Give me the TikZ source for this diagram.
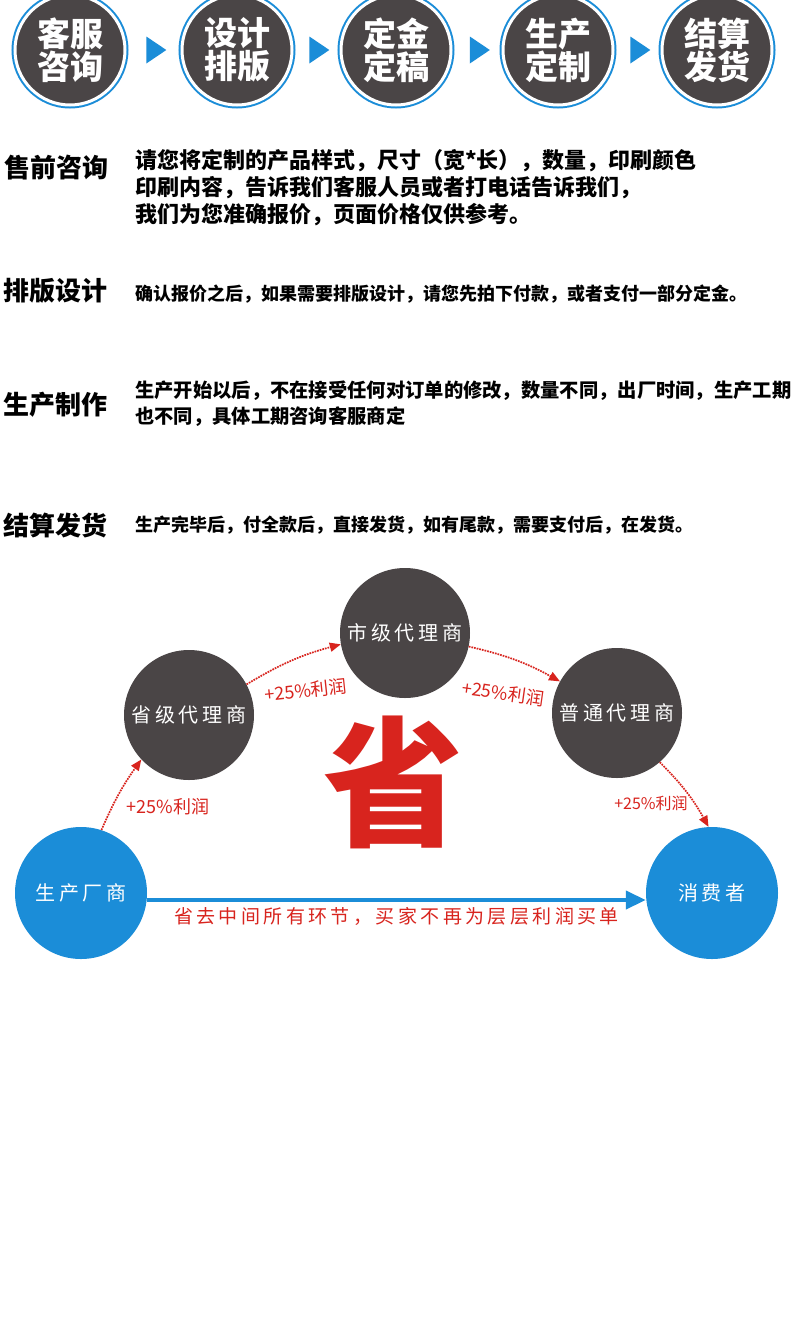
\documentclass[tikz,border=0pt]{standalone}
\usepackage{fontspec}
\setmainfont{Noto Sans CJK SC}
\newfontfamily\spaced[LetterSpace=18]{Noto Sans CJK SC}
\usepackage{tikz}
\usetikzlibrary{arrows.meta,shapes.geometric}
\definecolor{Dark}{HTML}{4A4546}
\definecolor{Sky}{HTML}{1B8DD8}
\definecolor{Crimson}{HTML}{D8241E}

\begin{document}
\begin{tikzpicture}[
  x=1pt,y=-1pt,
  stepnode/.style={circle,minimum size=110pt,inner sep=0pt,fill=Dark,draw=white,
                   line width=3pt,preaction={draw=Sky,line width=7pt},text=white,
                   align=center,font=\fontsize{33}{33}\bfseries\selectfont},
  marker/.style={isosceles triangle,isosceles triangle stretches,fill=Sky,
                 minimum width=27pt,minimum height=20pt,inner sep=0pt,
                 shape border rotate=0},
  title/.style={anchor=west,inner sep=0pt,font=\fontsize{26}{26}\bfseries\selectfont},
  body/.style={anchor=west,align=left,inner sep=0pt},
  agent/.style={circle,minimum size=130pt,inner sep=0pt,fill=Dark,text=white,
                font=\spaced\fontsize{20}{20}\selectfont},
  endpoint/.style={agent,minimum size=132pt,fill=Sky},
  profit/.style={inner sep=0pt,text=Crimson,font=\fontsize{18}{18}\selectfont},
  hop/.style={-{Triangle[length=11pt,width=9pt]},Crimson,densely dotted,line width=1.7pt},
  direct/.style={-{Triangle[length=20pt,width=18pt]},Sky,line width=4pt}
]

  \path[use as bounding box,fill=white] (0,0) rectangle (790,1320);

  \node[stepnode] (consult) at (70,50) {客服\\咨询};
  \node[stepnode] (design) at (237,50) {设计\\排版};
  \node[stepnode] (deposit) at (396,50) {定金\\定稿};
  \node[stepnode] (produce) at (558,50) {生产\\定制};
  \node[stepnode] (settle) at (717,50) {结算\\发货};

  \path (consult) -- (design) node[marker,midway] (m1) {};
  \path (design) -- (deposit) node[marker,midway] (m2) {};
  \path (deposit) -- (produce) node[marker,midway] (m3) {};
  \path (produce) -- (settle) node[marker,midway] (m4) {};

  \node[title] (t1) at (4,168) {售前咨询};
  \node[body,font=\fontsize{22}{27}\bfseries\selectfont] (b1) at (135,188) {请您将定制的产品样式，尺寸（宽*长），数量，印刷颜色\\印刷内容，告诉我们客服人员或者打电话告诉我们，\\我们为您准确报价，页面价格仅供参考。};

  \node[title] (t2) at (3,291) {排版设计};
  \node[body,font=\fontsize{18}{18}\bfseries\selectfont] (b2) at (135,294) {确认报价之后，如果需要排版设计，请您先拍下付款，或者支付一部分定金。};

  \node[title] (t3) at (3,405) {生产制作};
  \node[body,font=\fontsize{19.3}{26}\bfseries\selectfont] (b3) at (135,404) {生产开始以后，不在接受任何对订单的修改，数量不同，出厂时间，生产工期\\也不同，具体工期咨询客服商定};

  \node[title] (t4) at (3,525) {结算发货};
  \node[body,font=\fontsize{18}{18}\bfseries\selectfont] (b4) at (135,525) {生产完毕后，付全款后，直接发货，如有尾款，需要支付后，在发货。};

  \node[agent] (city) at (405,633) {市级代理商};
  \node[agent] (province) at (189,715) {省级代理商};
  \node[agent] (general) at (617,713) {普通代理商};
  \node[endpoint] (maker) at (81,893) {生产厂商};
  \node[endpoint] (consumer) at (712,893) {消费者};

  \node[text=Crimson,font=\fontsize{140}{140}\bfseries\selectfont] (save) at (393,782) {省};

  \draw[hop] (maker.72) to[bend left=6] (province.223);
  \draw[hop] (province.28) to[bend left=8] (city.190);
  \draw[hop] (city.348) to[bend left=8] (general.151);
  \draw[hop] (general.311) to[bend left=8] (consumer.93);

  \node[profit] (p1) at (168,807) {+25\%利润};
  \node[profit,rotate=6] (p2) at (306,690) {+25\%利润};
  \node[profit,rotate=-8] (p3) at (503,693) {+25\%利润};
  \node[profit,font=\fontsize{16}{16}\selectfont] (p4) at (651,803) {+25\%利润};

  \draw[direct] ([yshift=-7pt]maker.east) -- ([yshift=-7pt]consumer.west)
    node[midway,below=5pt,inner sep=0pt,text=Crimson,font=\spaced\fontsize{19}{19}\selectfont] (skip) {省去中间所有环节，买家不再为层层利润买单};

\end{tikzpicture}
\end{document}
